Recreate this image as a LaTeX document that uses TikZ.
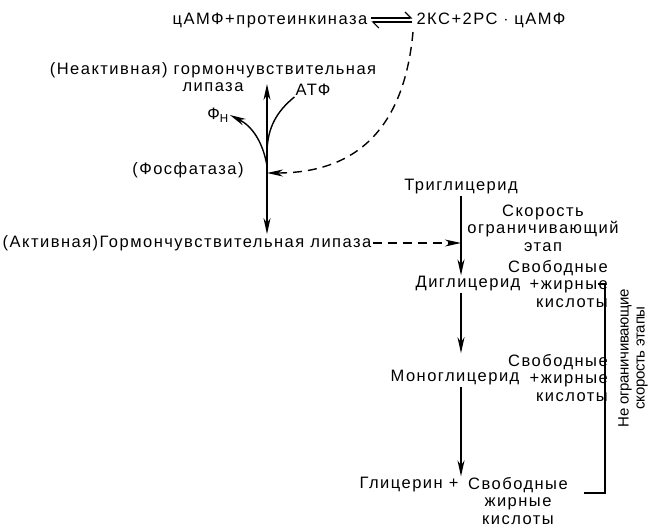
\documentclass[tikz,border=0pt]{standalone}
\usepackage{fontspec}
\setmainfont{Liberation Sans}[LetterSpace=9]
\usepackage{tikz}
\usetikzlibrary{arrows.meta, positioning, calc}

\begin{document}
\begin{tikzpicture}[
    x=1pt, y=-1pt,
    lbl/.style={inner sep=1pt, font=\fontsize{16.5}{17.5}\selectfont, align=#1},
    lbl/.default=center,
    arr/.style={-{Stealth[length=16pt, width=7pt, inset=5pt]}, line width=1.4pt},
    darr/.style={arr, dash pattern=on 9pt off 6pt},
    harp/.style={line width=1.1pt}
]
\useasboundingbox (0,0) rectangle (649,528);

% equilibrium
\node[lbl] (eqL) at (270,20) {цАМФ+протеинкиназа};
\node[lbl] (eqR) at (491,20) {2КС+2РС $\cdot$ цАМФ};
\draw[harp, -{Straight Barb[left, length=6pt]}] ($(eqL.east)+(3,-2)$) -- ($(eqR.west)+(-3,-2)$);
\draw[harp, -{Straight Barb[left, length=6pt]}] ($(eqR.west)+(-3,2)$) -- ($(eqL.east)+(3,2)$);

% lipase, inactive form
\node[lbl] (inact) at (213,77) {(Неактивная) гормончувствительная\\липаза};
\node[lbl] (atp) at (313,90) {АТФ};
\node[lbl] (pn) at (218,115) {Ф\textsubscript{Н}};
\node[lbl] (fosf) at (188,170) {(Фосфатаза)};

% lipase, active form
\node[lbl] (act) at (187,243) {(Активная)Гормончувствительная липаза};

\coordinate (mid) at (267,173);
\coordinate (up) at (267,84);
\coordinate (jAtp) at (267,150);
\coordinate (jPn) at (267,166);
\draw[arr] (mid) -- (up);
\draw[arr] (mid) -- (mid |- act.north);
\draw[line width=1.4pt] (atp.south west) .. controls (276,112) and (268,128) .. (jAtp);
\draw[arr] (jPn) .. controls (263,142) and (252,126) .. (pn.east);

% from protein kinase
\coordinate (dstart) at (413,32);
\draw[darr] (dstart) .. controls (404,130) and (355,173) .. (mid);

% lipolysis
\node[lbl] (tg) at (461,187) {Триглицерид};
\node[lbl] (rate) at (543,228) {Скорость\\ограничивающий\\этап};
\node[lbl] (dg) at (468,284) {Диглицерид};
\node[lbl=right, anchor=east] (ffa1) at (609,284) {Свободные\\+жирные\\кислоты};
\node[lbl] (mg) at (455,378) {Моноглицерид};
\node[lbl=right, anchor=east] (ffa2) at (609,378) {Свободные\\+жирные\\кислоты};
\node[lbl] (gl) at (409,485) {Глицерин +};
\node[lbl, anchor=north] (ffa3) at (518,476) {Свободные\\жирные\\кислоты};

\draw[arr] (tg.south) -- (tg |- dg.north);
\draw[arr] (tg |- dg.south) -- (tg |- ffa2.north);
\draw[arr] (tg |- mg.south) -- (tg |- gl.north);
\draw[darr] (act.east) -- (tg |- act.east);

% bracket
\coordinate (br1) at (598,284);
\coordinate (br2) at (584,493);
\draw[line width=1.4pt] (br1) -- ++(7,0) -- (605,493) -- (br2);
\node[lbl, rotate=90, font=\fontsize{15}{16}\selectfont\addfontfeatures{LetterSpace=-2}] (nolim) at (633,358) {Не ограничивающие\\скорость этапы};

\end{tikzpicture}
\end{document}
